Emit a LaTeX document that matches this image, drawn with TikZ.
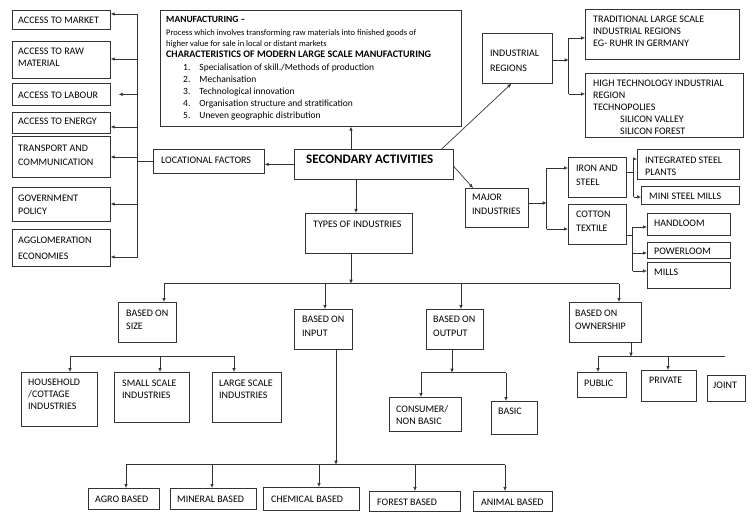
\documentclass[tikz,border=0pt]{standalone}
\usepackage{fontspec}
\setmainfont{Carlito}
\usetikzlibrary{arrows.meta}
\tikzset{
  box/.style={draw=black!80, line width=0.7pt, inner sep=0pt, fill=white},
  txt/.style={inner sep=0pt, align=left, font=\fontsize{10}{12}\selectfont, text=black},
  ln/.style={draw=black!80, line width=0.7pt},
  arr/.style={ln, -{Latex[length=4pt,width=3.6pt]}},
}
% \bx[xoff,yoff]{name}{x1}{y1}{x2}{y2}{text}
\newcommand\bx[7][7,7]{%
  \node[box, anchor=north west, minimum width={#5pt-#3pt}, minimum height={#6pt-#4pt}] (#2) at (#3,#4) {};
  \node[txt, anchor=north west] (#2-t) at ([shift={(#1)}]#2.north west) {#7};}
\begin{document}
\begin{tikzpicture}[x=1pt,y=-1pt]
\useasboundingbox[fill=white] (0,0) rectangle (754,518);

% left column
\bx[6,7]{market}{12}{10}{110}{29}{ACCESS TO MARKET}
\bx[6,7]{raw}{12}{41}{110}{78}{ACCESS TO RAW\\MATERIAL}
\bx[6,8.5]{labour}{12}{83}{110}{105}{ACCESS TO LABOUR}
\bx[6,6]{energy}{12}{112}{110}{133}{ACCESS TO ENERGY}
\bx[6,9]{transport}{12}{136}{110}{177}{TRANSPORT AND\\[1.5pt]COMMUNICATION}
\bx[6,8]{govt}{12}{187}{110}{221}{GOVERNMENT\\[1pt]POLICY}
\bx[6,8]{agglom}{12}{229}{110}{266}{AGGLOMERATION\\[4pt]ECONOMIES}

\bx[8,8]{lf}{153}{149}{264}{173}{LOCATIONAL FACTORS}
\node[box, anchor=north west, minimum width=159pt, minimum height=30pt] (sa) at (294,149) {};
\node[txt, anchor=north west, font=\bfseries\fontsize{13}{15}\selectfont] (sa-t) at ([shift={(12,6)}]sa.north west) {SECONDARY ACTIVITIES};

% manufacturing box
\node[box, anchor=north west, minimum width=301pt, minimum height=116pt] (mf) at (160,10) {};
\node[txt, anchor=north west, font=\fontsize{8.5}{11}\selectfont] (mf-t) at ([shift={(6,6)}]mf.north west) {%
{\bfseries\fontsize{9.5}{11}\selectfont MANUFACTURING –}\\[2pt]
Process which involves transforming raw materials into finished goods of\\
higher value for sale in local or distant markets\\
{\bfseries\fontsize{10}{11}\selectfont CHARACTERISTICS OF MODERN LARGE SCALE MANUFACTURING}\\[2pt]
{\fontsize{9.5}{12}\selectfont\hspace*{17pt}1.\hspace{9pt}Specialisation of skill./Methods of production}\\[1pt]
{\fontsize{9.5}{12}\selectfont\hspace*{17pt}2.\hspace{9pt}Mechanisation}\\[1pt]
{\fontsize{9.5}{12}\selectfont\hspace*{17pt}3.\hspace{9pt}Technological innovation}\\[1pt]
{\fontsize{9.5}{12}\selectfont\hspace*{17pt}4.\hspace{9pt}Organisation structure and stratification}\\[1pt]
{\fontsize{9.5}{12}\selectfont\hspace*{17pt}5.\hspace{9pt}Uneven geographic distribution}};

% industrial regions
\bx[8,17]{ir}{482}{33}{552}{83}{INDUSTRIAL\\[3pt]REGIONS}
\bx[8,7]{trad}{585}{9}{739}{59}{TRADITIONAL LARGE SCALE\\INDUSTRIAL REGIONS\\EG- RUHR IN GERMANY}
\bx[8,7]{high}{585}{73}{743}{137}{HIGH TECHNOLOGY INDUSTRIAL\\REGION\\TECHNOPOLIES\\\hspace*{27pt}SILICON VALLEY\\\hspace*{27pt}SILICON FOREST}

% major industries
\bx[7,6]{mi}{465}{188}{528}{227}{MAJOR\\[2pt]INDUSTRIES}
\bx[8,8]{iron}{568}{157}{626}{197}{IRON AND\\[2pt]STEEL}
\bx[8,7]{cotton}{568}{204}{626}{244}{COTTON\\[2pt]TEXTILE}
\bx[8,8]{integ}{637}{149}{739}{179}{INTEGRATED STEEL\\PLANTS}
\bx[8,7]{mini}{641}{186}{739}{204}{MINI STEEL MILLS}
\bx[7,7]{hand}{647}{213}{730}{235}{HANDLOOM}
\bx[7,5.5]{power}{647}{242}{730}{258}{POWERLOOM}
\bx[7,7]{mills}{647}{262}{730}{288}{MILLS}

% types of industries
\bx[8,8]{ti}{305}{213}{412}{253}{TYPES OF INDUSTRIES}
\bx[8,8]{size}{118}{302}{176}{342}{BASED ON\\[1pt]SIZE}
\bx[8,7]{input}{294}{309}{352}{349}{BASED ON\\[2pt]INPUT}
\bx[7,7]{output}{426}{309}{483}{349}{BASED ON\\[2pt]OUTPUT}
\bx[6,8]{own}{569}{302}{641}{342}{BASED ON\\[1pt]OWNERSHIP}

\bx[7,7]{household}{21}{372}{97}{426}{HOUSEHOLD\\/COTTAGE\\INDUSTRIES}
\bx[8,8]{small}{114}{372}{189}{422}{SMALL SCALE\\INDUSTRIES}
\bx[7,8]{large}{212}{372}{281}{422}{LARGE SCALE\\INDUSTRIES}

\bx[7,8]{consumer}{389}{397}{461}{431}{CONSUMER/\\NON BASIC}
\bx[7,7]{basic}{491}{401}{537}{434}{BASIC}

\bx[7,8]{public}{577}{372}{626}{397}{PUBLIC}
\bx[8,7]{private}{641}{370}{696}{401}{PRIVATE}
\bx[6,7]{joint}{707}{375}{745}{401}{JOINT}

\bx[7,8]{agro}{88}{488}{159}{509}{AGRO BASED}
\bx[7,8]{mineral}{170}{488}{256}{509}{MINERAL BASED}
\bx[8,9]{chemical}{263}{487}{359}{510}{CHEMICAL BASED}
\bx[8,8]{forest}{369}{491}{460}{511}{FOREST BASED}
\bx[8,8]{animal}{473}{491}{552}{511}{ANIMAL BASED}

% ---------- connectors ----------
% locational factors
\draw[ln] (lf.west) -- ++(-16,0) coordinate (lfj);
\draw[ln] (lfj |- 0,14) -- (lfj |- 0,258);
\foreach \n/\y in {market/14, raw/59, energy/127, transport/157, govt/204, agglom/257}
  \draw[arr] (lfj |- 0,\y) -- (\n.east |- 0,\y);
\draw[arr] (lfj |- labour.east) -- ([xshift=8]labour.east);

\draw[arr] (sa.west) -- (lf.east |- sa.west);
\draw[arr] (sa.north -| 351,0) -- (mf.south -| 351,0);
\draw[arr] ([xshift=-12]sa.north east) -- ([xshift=-6]ir.south);

% industrial regions
\draw[arr] (ir.east |- 0,60) -- ++(16,0) coordinate (irj);
\draw[ln] (irj |- 0,38) -- (irj |- 0,94);
\draw[arr] (irj |- 0,38) -- (trad.west |- 0,38);
\draw[arr] (irj |- 0,94) -- (high.west |- 0,94);

% major industries
\draw[arr] ([yshift=-2]sa.east) -- ([xshift=8]mi.north west);
\draw[arr] (mi.east |- 0,203) -- ++(18,0) coordinate (mij);
\draw[ln] (mij |- 0,168) -- (mij |- 0,229);
\draw[arr] (mij |- 0,168) -- (iron.west |- 0,168);
\draw[arr] (mij |- 0,229) -- (cotton.west |- 0,229);

\draw[ln] (iron.east |- 0,172) -- ++(7,0) coordinate (irnj);
\draw[ln] (irnj |- 0,159) -- (irnj |- 0,197);
\draw[arr] (irnj |- 0,159) -- (integ.west |- 0,159);
\draw[arr] (irnj |- 0,197) -- (mini.west |- 0,197);

\draw[ln] (cotton.east |- 0,235) -- ++(6,0) coordinate (cotj);
\draw[ln] (cotj |- 0,227) -- (cotj |- 0,271);
\foreach \n/\y in {hand/227, power/253, mills/271}
  \draw[arr] (cotj |- 0,\y) -- (\n.west |- 0,\y);

% types of industries
\draw[arr] (sa.south -| 356,0) -- (ti.north -| 356,0);
\draw[arr] (ti.south -| 351,0) -- ++(0,30) coordinate (tij);
\draw[ln] (tij -| 164,0) -- (tij -| 619,0);
\foreach \n/\x in {size/164, input/325, output/461, own/619}
  \draw[arr] (tij -| \x,0) -- (\n.north -| \x,0);

% size
\coordinate (szj) at (70,356);
\draw[ln] (szj) -- (szj -| 234,0);
\foreach \n/\x in {household/70, small/160, large/234}
  \draw[arr] (szj -| \x,0) -- (\n.north -| \x,0);

% input
\draw[arr] (input.south -| 336,0) -- ++(0,115) coordinate (inj);
\draw[ln] (inj -| 126,0) -- (inj -| 505,0);
\foreach \n/\x in {agro/126, mineral/212, chemical/319, forest/415, animal/505}
  \draw[arr] (inj -| \x,0) -- (\n.north -| \x,0);

% output
\draw[arr] (output.south -| 452,0) -- ++(0,23) coordinate (outj);
\draw[ln] (outj -| 421,0) -- (outj -| 506,0);
\foreach \n/\x in {consumer/421, basic/506}
  \draw[arr] (outj -| \x,0) -- (\n.north -| \x,0);

% ownership
\draw[arr] (own.south -| 631,0) -- ++(0,14) coordinate (ownj);
\draw[ln] (ownj -| 598,0) -- (ownj -| 725,0);
\foreach \n/\x in {public/598, private/668}
  \draw[arr] (ownj -| \x,0) -- (\n.north -| \x,0);
\end{tikzpicture}
\end{document}
